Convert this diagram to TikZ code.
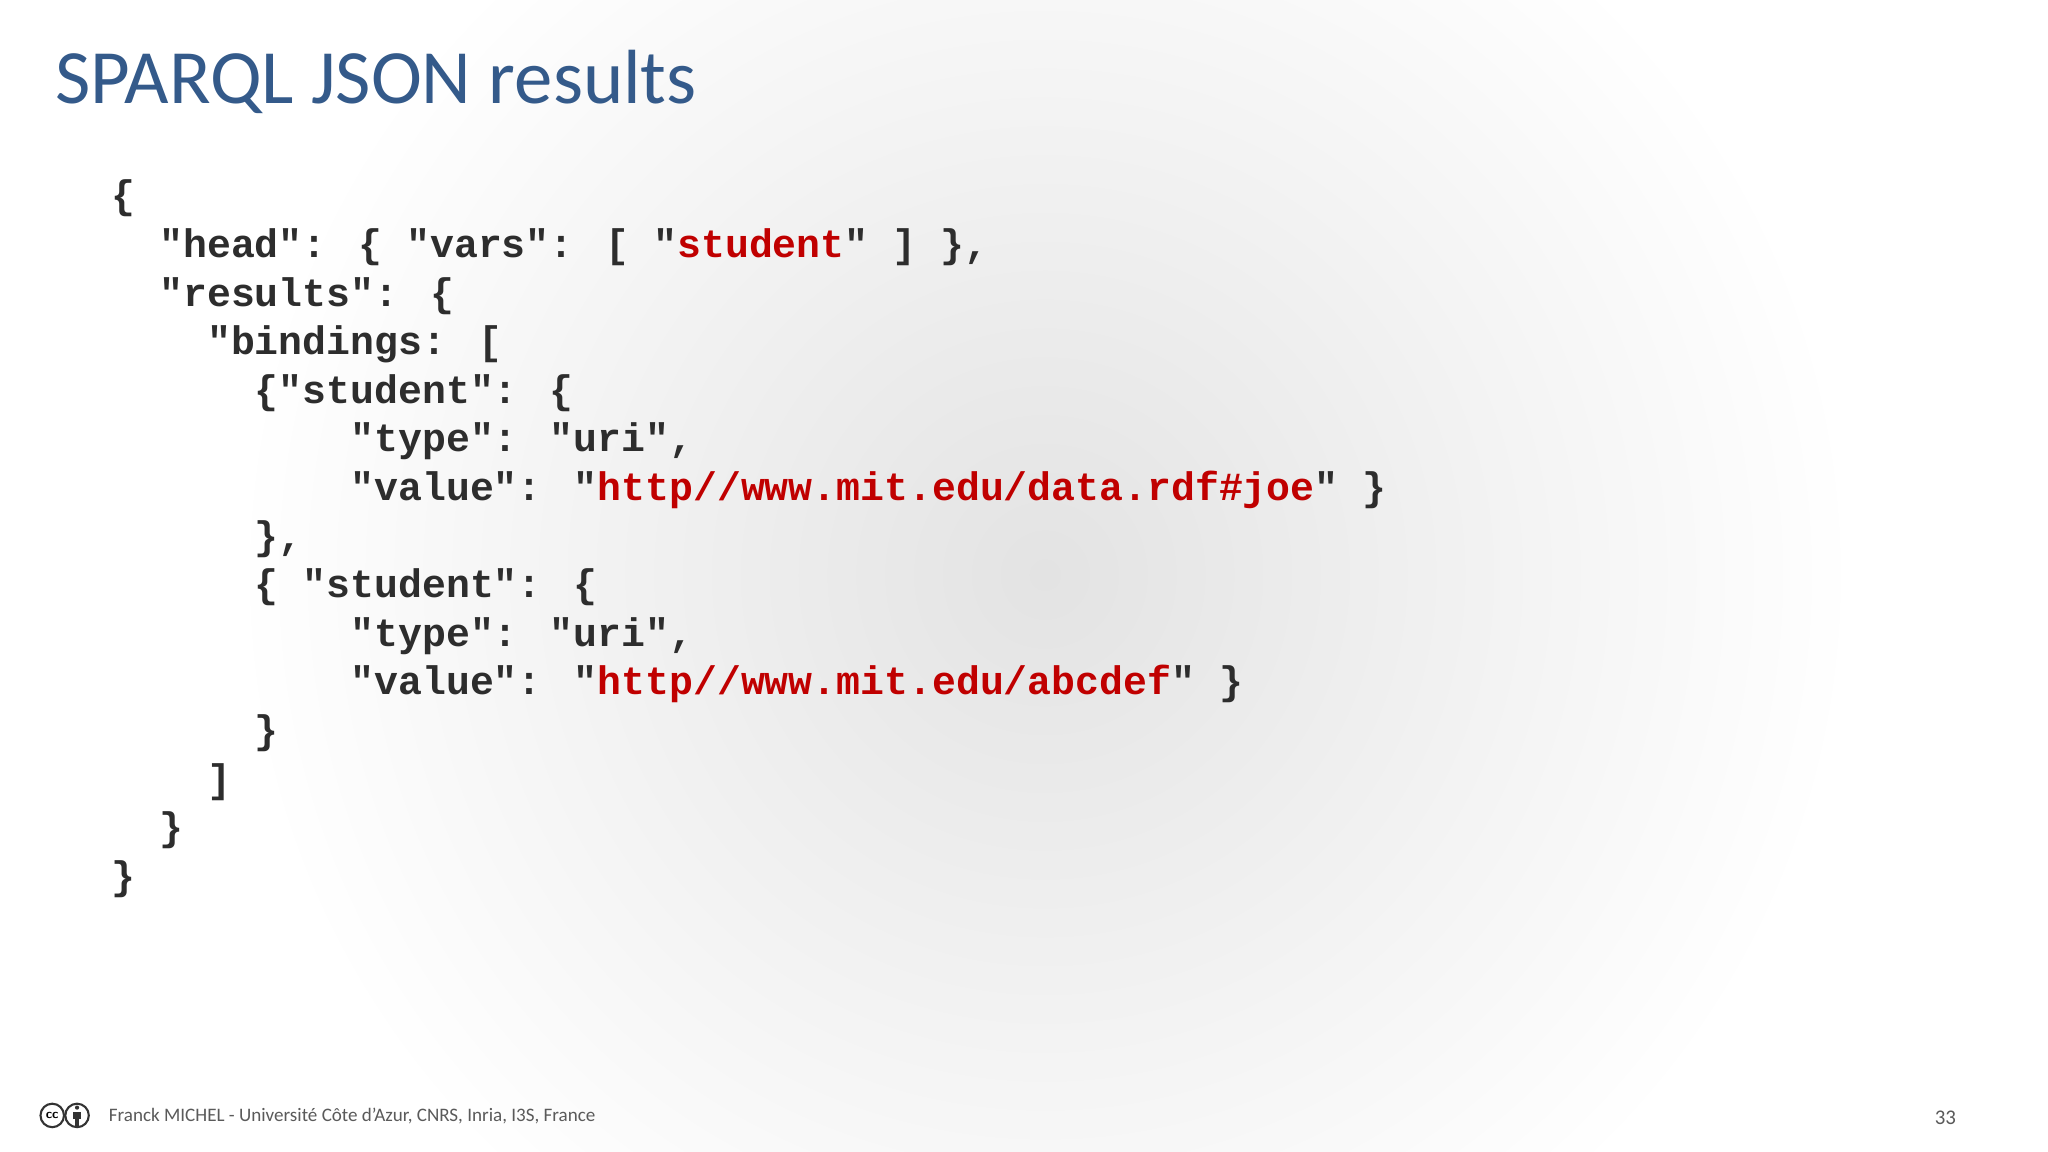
\documentclass[tikz,border=0pt]{standalone}
\usepackage{fontspec}
\setmainfont{Carlito}
\newfontfamily\codefont{Liberation Mono}
\definecolor{titleblue}{RGB}{52,90,138}
\definecolor{codegray}{RGB}{45,45,45}
\definecolor{codered}{RGB}{192,0,0}
\definecolor{footgray}{RGB}{90,90,90}
\newcommand{\rs}[1]{\textcolor{codered}{#1}}
\begin{document}
\begin{tikzpicture}[x=0.5pt,y=-0.5pt,
  codeline/.style={anchor=base west,inner sep=0pt,font=\codefont\bfseries\fontsize{15.25pt}{18pt}\selectfont,text=codegray}]
\useasboundingbox (0,0) rectangle (1568,882);
\fill[white] (0,0) rectangle (1568,882);
\shade[inner color=black!11,outer color=white] (800,440) circle (620);
\node[anchor=base west,inner sep=0pt,text=titleblue,font=\fontsize{29.4pt}{36pt}\selectfont] (title) at (42,79) {SPARQL JSON results};
\def\cw{18.3}
\def\lh{37.2}
\def\xo{85}
\node[codeline] (l0) at (\xo+0*\cw,160+0*\lh) {\{};
\node[codeline] (l1) at (\xo+2*\cw,160+1*\lh) {"head": \{ "vars": [ "\rs{student}" ] \},};
\node[codeline] (l2) at (\xo+2*\cw,160+2*\lh) {"results": \{};
\node[codeline] (l3) at (\xo+4*\cw,160+3*\lh) {"bindings: [};
\node[codeline] (l4) at (\xo+6*\cw,160+4*\lh) {\{"student": \{};
\node[codeline] (l5) at (\xo+10*\cw,160+5*\lh) {"type": "uri",};
\node[codeline] (l6) at (\xo+10*\cw,160+6*\lh) {"value": "\rs{http//www.mit.edu/data.rdf\#joe}" \}};
\node[codeline] (l7) at (\xo+6*\cw,160+7*\lh) {\},};
\node[codeline] (l8) at (\xo+6*\cw,160+8*\lh) {\{ "student": \{};
\node[codeline] (l9) at (\xo+10*\cw,160+9*\lh) {"type": "uri",};
\node[codeline] (l10) at (\xo+10*\cw,160+10*\lh) {"value": "\rs{http//www.mit.edu/abcdef}" \}};
\node[codeline] (l11) at (\xo+6*\cw,160+11*\lh) {\}};
\node[codeline] (l12) at (\xo+4*\cw,160+12*\lh) {]};
\node[codeline] (l13) at (\xo+2*\cw,160+13*\lh) {\}};
\node[codeline] (l14) at (\xo+0*\cw,160+14*\lh) {\}};
% CC icons
\node[circle,draw=black!80,line width=0.8pt,minimum size=9pt,inner sep=0pt,font=\sffamily\bfseries\fontsize{5pt}{5pt}\selectfont] (cc) at (40,854) {cc};
\node[circle,draw=black!80,line width=0.8pt,minimum size=9pt,inner sep=0pt] (by) at (59,854) {};
\fill[black!80] (59,848) circle (1.6);
\fill[black!80] (56,851) rectangle (62,857);
\fill[black!80] (57.2,857) rectangle (60.8,862);
\node[anchor=base west,inner sep=0pt,text=footgray,font=\fontsize{7.3pt}{8pt}\selectfont] (foot) at (83,859) {Franck MICHEL - Université Côte d’Azur, CNRS, Inria, I3S, France};
\node[anchor=base east,inner sep=0pt,text=footgray,font=\fontsize{8pt}{9pt}\selectfont] (page) at (1498,861) {33};
\end{tikzpicture}
\end{document}
